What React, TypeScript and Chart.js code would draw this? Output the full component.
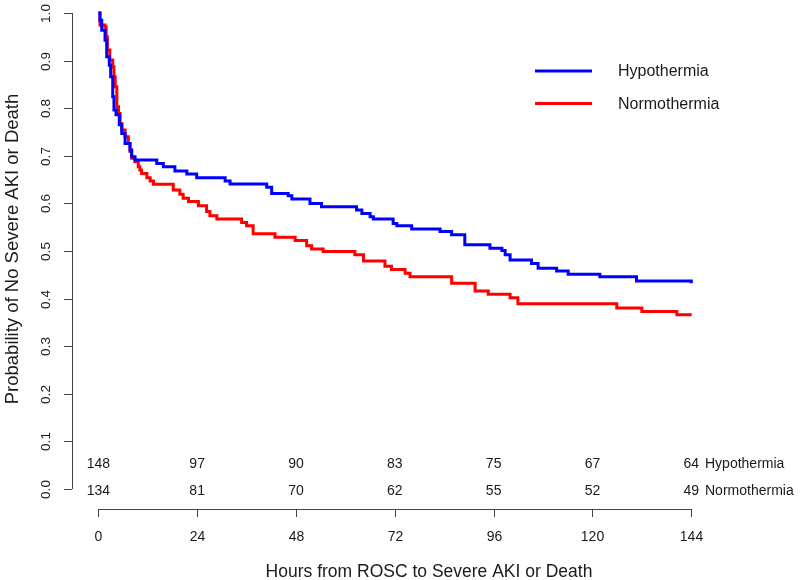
import React, { useEffect, useRef } from "react";
import { Chart, registerables } from "chart.js";

Chart.register(...registerables);

// ---- Data ----
const hypoTimes = [0, 0.4, 0.83, 1.63, 2.04, 2.67, 3.0, 3.5, 3.8, 4.3, 5.1, 5.7, 6.5, 7.7, 8.1, 8.9, 14.2, 15.8, 18.6, 21.5, 23.9, 30.8, 32.0, 40.9, 42.1, 46.1, 47.0, 51.4, 54.2, 62.7, 64.0, 66.0, 66.8, 71.6, 72.5, 76.1, 83.0, 85.8, 89.0, 95.1, 98.0, 98.8, 100.0, 105.2, 106.8, 111.3, 114.1, 121.8, 130.7, 143.8, 144.0];
const hypoSurv = [1.0, 0.985, 0.964, 0.943, 0.908, 0.89, 0.866, 0.824, 0.796, 0.786, 0.765, 0.747, 0.726, 0.712, 0.698, 0.691, 0.684, 0.677, 0.668, 0.662, 0.654, 0.647, 0.641, 0.634, 0.621, 0.616, 0.609, 0.6, 0.593, 0.586, 0.579, 0.572, 0.567, 0.558, 0.553, 0.546, 0.541, 0.534, 0.513, 0.506, 0.501, 0.492, 0.481, 0.474, 0.464, 0.458, 0.451, 0.446, 0.437, 0.437, 0.432];

const normoTimes = [0, 0.4, 1.6, 1.9, 2.2, 2.8, 3.5, 3.8, 4.1, 4.5, 4.9, 5.3, 5.7, 6.5, 7.3, 7.7, 8.1, 8.9, 9.7, 10.1, 10.5, 11.8, 12.6, 13.4, 18.2, 19.8, 20.6, 21.9, 24.3, 26.3, 27.1, 28.8, 34.8, 36.0, 37.6, 42.9, 47.8, 50.6, 51.8, 54.6, 62.3, 64.4, 69.6, 71.2, 74.5, 75.7, 85.8, 91.5, 94.7, 100.0, 101.9, 125.9, 132.0, 140.5, 144.1];
const normoSurv = [1.0, 0.975, 0.971, 0.95, 0.922, 0.901, 0.887, 0.866, 0.845, 0.803, 0.789, 0.768, 0.754, 0.74, 0.726, 0.709, 0.695, 0.688, 0.677, 0.67, 0.663, 0.654, 0.647, 0.64, 0.628, 0.619, 0.611, 0.604, 0.595, 0.583, 0.574, 0.567, 0.56, 0.553, 0.536, 0.529, 0.522, 0.511, 0.504, 0.499, 0.492, 0.479, 0.468, 0.461, 0.453, 0.446, 0.432, 0.416, 0.409, 0.402, 0.389, 0.38, 0.373, 0.366, 0.366];

const groupNames = ["Hypothermia", "Normothermia"];
const seriesColors = ["#0000FF", "#FF0000"];

const xTicks = [0, 24, 48, 72, 96, 120, 144];
const yTicks = [0, 0.1, 0.2, 0.3, 0.4, 0.5, 0.6, 0.7, 0.8, 0.9, 1.0];
const yTickLabels = ["0.0", "0.1", "0.2", "0.3", "0.4", "0.5", "0.6", "0.7", "0.8", "0.9", "1.0"];

const atRiskTimes = [0, 24, 48, 72, 96, 120, 144];
const hypoAtRisk = [148, 97, 90, 83, 75, 67, 64];
const normoAtRisk = [134, 81, 70, 62, 55, 52, 49];

const xTitle = "Hours from ROSC to Severe AKI or Death";
const yTitle = "Probability of No Severe AKI or Death";

const FONT = '"Liberation Sans", Arial, sans-serif';
const TEXT = "#1a1a1a";
const AXIS = "#444444";

const rAxesPlugin = {
  id: "rAxes",
  afterDraw(chart: any) {
    const ctx = chart.ctx;
    const xs = chart.scales.x;
    const ys = chart.scales.y;
    const area = chart.chartArea;
    ctx.save();

    // Y axis (R style)
    const axX = area.left;
    ctx.strokeStyle = AXIS;
    ctx.lineWidth = 1;
    ctx.beginPath();
    ctx.moveTo(axX + 0.5, ys.getPixelForValue(0));
    ctx.lineTo(axX + 0.5, ys.getPixelForValue(1));
    ctx.stroke();
    ctx.fillStyle = TEXT;
    ctx.font = `13.5px ${FONT}`;
    ctx.textAlign = "center";
    ctx.textBaseline = "middle";
    yTicks.forEach((v, i) => {
      const py = Math.round(ys.getPixelForValue(v)) + 0.5;
      ctx.beginPath();
      ctx.moveTo(axX, py);
      ctx.lineTo(axX - 8, py);
      ctx.stroke();
      ctx.save();
      ctx.translate(axX - 26, py);
      ctx.rotate(-Math.PI / 2);
      ctx.fillText(yTickLabels[i], 0, 0);
      ctx.restore();
    });

    // X axis
    const axY = area.bottom;
    ctx.beginPath();
    ctx.moveTo(xs.getPixelForValue(xTicks[0]), axY + 0.5);
    ctx.lineTo(xs.getPixelForValue(xTicks[xTicks.length - 1]), axY + 0.5);
    ctx.stroke();
    ctx.font = `14px ${FONT}`;
    xTicks.forEach((v) => {
      const px = Math.round(xs.getPixelForValue(v)) + 0.5;
      ctx.beginPath();
      ctx.moveTo(px, axY);
      ctx.lineTo(px, axY + 8);
      ctx.stroke();
      ctx.fillText(String(v), px, axY + 28);
    });

    // Titles
    ctx.font = `17.5px ${FONT}`;
    ctx.fillText(xTitle, 429, axY + 63);
    ctx.save();
    ctx.font = `18.5px ${FONT}`;
    ctx.translate(13, 249);
    ctx.rotate(-Math.PI / 2);
    ctx.fillText(yTitle, 0, 0);
    ctx.restore();

    // Numbers at risk
    ctx.font = `14px ${FONT}`;
    const rows = [hypoAtRisk, normoAtRisk];
    const rowY = [ys.getPixelForValue(0.052), ys.getPixelForValue(-0.005)];
    rows.forEach((row, r) => {
      ctx.textAlign = "center";
      row.forEach((n, i) => {
        ctx.fillText(String(n), xs.getPixelForValue(atRiskTimes[i]), rowY[r]);
      });
      ctx.textAlign = "left";
      ctx.fillText(groupNames[r], 705, rowY[r]);
    });

    // Legend
    ctx.font = `16px ${FONT}`;
    const legY = [71, 103.5];
    groupNames.forEach((name, i) => {
      ctx.strokeStyle = seriesColors[i];
      ctx.lineWidth = 3;
      ctx.beginPath();
      ctx.moveTo(535, legY[i]);
      ctx.lineTo(592, legY[i]);
      ctx.stroke();
      ctx.fillStyle = TEXT;
      ctx.textAlign = "left";
      ctx.fillText(name, 618, legY[i] + 1);
    });

    ctx.restore();
  },
};

export default function App() {
  const ref = useRef<HTMLCanvasElement | null>(null);
  useEffect(() => {
    if (!ref.current) return;
    const series = [
      { t: hypoTimes, s: hypoSurv },
      { t: normoTimes, s: normoSurv },
    ];
    const chart = new Chart(ref.current, {
      type: "line",
      data: {
        datasets: series.map((d, i) => ({
          label: groupNames[i],
          data: d.t.map((t, j) => ({ x: t, y: d.s[j] })),
          borderColor: seriesColors[i],
          backgroundColor: seriesColors[i],
          borderWidth: 3,
          pointRadius: 0,
          stepped: "before" as const,
          tension: 0,
          fill: false,
        })),
      },
      options: {
        responsive: false,
        animation: false,
        devicePixelRatio: 1,
        layout: { padding: { left: 72, right: 85, top: 0, bottom: 71 } },
        plugins: { legend: { display: false }, tooltip: { enabled: false } },
        scales: {
          x: { type: "linear", min: -6.39, max: 149.76, display: false },
          y: { type: "linear", min: -0.042, max: 1.0273, display: false },
        },
      },
      plugins: [rAxesPlugin],
    });
    return () => chart.destroy();
  }, []);
  return (
    <div style={{ position: "absolute", left: 0, top: 0, width: 800, height: 580, background: "#fff" }}>
      <canvas ref={ref} width={800} height={580} />
    </div>
  );
}
